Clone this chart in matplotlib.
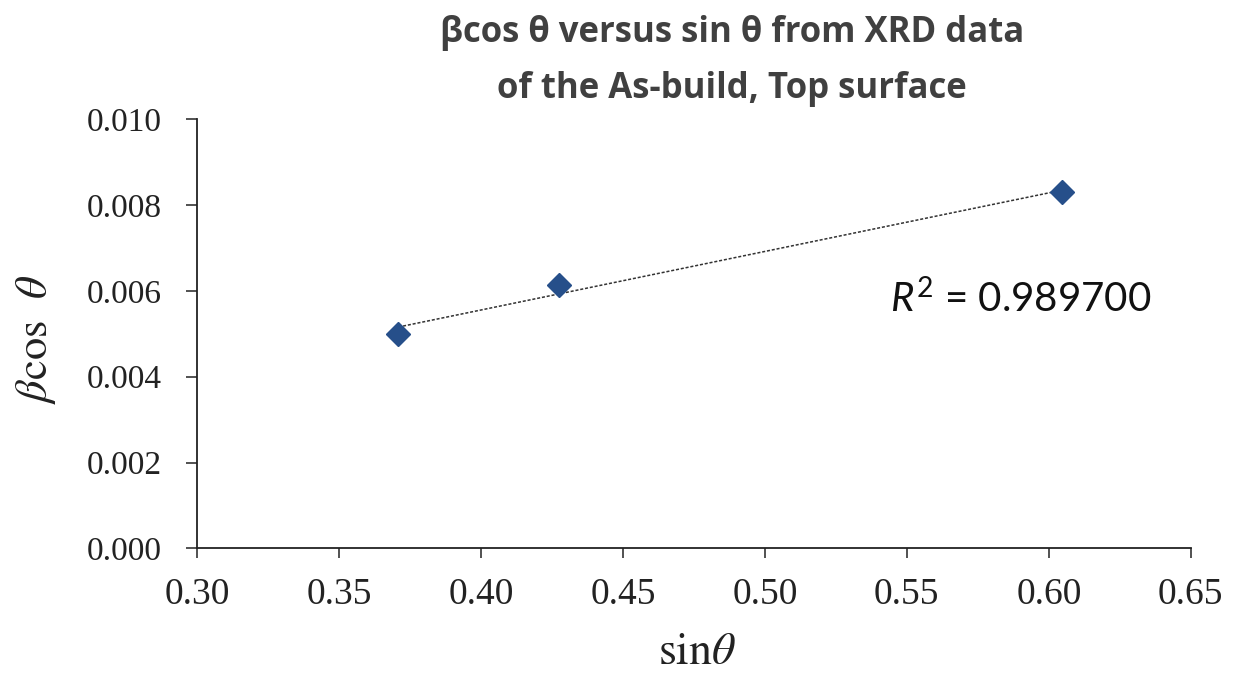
import numpy as np
import matplotlib.pyplot as plt

# Williamson-Hall data: sin(theta) vs beta*cos(theta)
sin_theta = [0.3709, 0.4276, 0.6048]
beta_cos_theta = [0.00500, 0.00614, 0.00830]
x_ticks = [0.30, 0.35, 0.40, 0.45, 0.50, 0.55, 0.60, 0.65]
y_ticks = [0.000, 0.002, 0.004, 0.006, 0.008, 0.010]
r2_text = "0.989700"

plt.rcParams['mathtext.fontset'] = 'custom'
plt.rcParams['mathtext.rm'] = 'Lato'
plt.rcParams['mathtext.it'] = 'Lato:italic'

fig = plt.figure(figsize=(12.34, 6.77), dpi=100)
ax = fig.add_axes([0.1596, 0.190, 0.8054, 0.6338])

x = np.array(sin_theta)
y = np.array(beta_cos_theta)

# linear trendline over the data range
slope, intercept = np.polyfit(x, y, 1)
xl = np.array([x.min(), x.max()])
ax.plot(xl, slope * xl + intercept, linestyle=(0, (2, 1.2)), color='#333333', linewidth=1.1, zorder=2)

ax.plot(x, y, linestyle='none', marker='D', markersize=12, color='#264f8a', zorder=3)

ax.set_xlim(x_ticks[0], x_ticks[-1])
ax.set_ylim(y_ticks[0], y_ticks[-1])
ax.set_xticks(x_ticks)
ax.set_yticks(y_ticks)
ax.set_xticklabels([f"{v:.2f}" for v in x_ticks])
ax.set_yticklabels([f"{v:.3f}" for v in y_ticks])

for lab in ax.get_xticklabels():
    lab.set_fontfamily('Liberation Serif')
    lab.set_fontsize(27)
    lab.set_color('#222222')
for lab in ax.get_yticklabels():
    lab.set_fontfamily('Liberation Serif')
    lab.set_fontsize(24)
    lab.set_color('#222222')

ax.tick_params(axis='x', direction='out', length=7, width=1.1, color='#222222', pad=14)
ax.tick_params(axis='y', direction='out', length=8, width=1.1, color='#222222', pad=17)
for side in ['top', 'right']:
    ax.spines[side].set_visible(False)
for side in ['left', 'bottom']:
    ax.spines[side].set_linewidth(1.3)
    ax.spines[side].set_color('#222222')

fig.text(697 / 1234, 1 - 664 / 677, r'$\mathrm{sin}\theta$', fontsize=33, color='#222222',
         ha='center', va='baseline', math_fontfamily='stix')
fig.text(36 / 1234, 1 - 339 / 677, r'$\beta\mathrm{cos}\ \ \theta$', fontsize=32, color='#222222',
         ha='center', va='center', rotation=90, math_fontfamily='stix')

fig.text(0.593, 1 - 42 / 677, 'βcos θ versus sin θ from XRD data', ha='center', va='baseline',
         fontsize=25, fontweight='bold', family='Open Sans', color='#404040')
fig.text(0.593, 1 - 98 / 677, 'of the As-build, Top surface', ha='center', va='baseline',
         fontsize=25, fontweight='bold', family='Open Sans', color='#404040')

ax.text(0.544, 0.00581, r'$R^2$' + ' = ' + r2_text, fontsize=29, family='Lato',
        color='#111111', ha='left', va='center', math_fontfamily='custom')

fig.savefig('out.png', dpi=100)
